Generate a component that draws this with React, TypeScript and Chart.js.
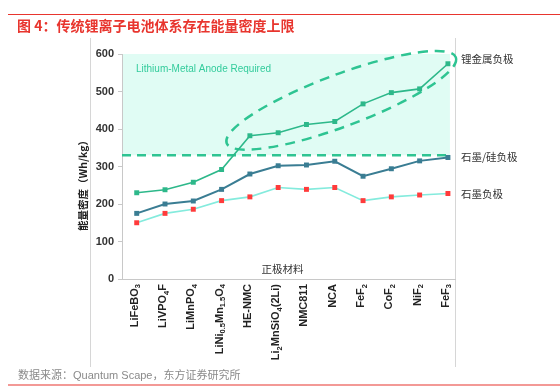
import React, { useEffect, useRef } from "react";
import { Chart, registerables } from "chart.js";

Chart.register(...registerables);

// ---------------- data ----------------
const categories = [
  "LiFeBO_{3}",
  "LiVPO_{4}F",
  "LiMnPO_{4}",
  "LiNi_{0.5}Mn_{1.5}O_{4}",
  "HE-NMC",
  "Li_{2}MnSiO_{4}(2Li)",
  "NMC811",
  "NCA",
  "FeF_{2}",
  "CoF_{2}",
  "NiF_{2}",
  "FeF_{3}",
];
const lithiumMetal = [230, 238, 258, 292, 382, 390, 412, 420, 467, 497, 507, 574];
const graphiteSilicon = [175, 200, 208, 239, 280, 302, 304, 314, 274, 294, 315, 324];
const graphite = [150, 175, 186, 209, 219, 244, 239, 244, 209, 219, 224, 228];
const seriesNames = ["锂金属负极", "石墨/硅负极", "石墨负极"];
const yMin = 0;
const yMax = 600;
const yStep = 100;
const limitValue = 330;
const titleText = "图 4：传统锂离子电池体系存在能量密度上限";
const sourceText = "数据来源：Quantum Scape，东方证券研究所";
const yTitle = "能量密度（Wh/kg）";
const xTitle = "正极材料";
const zoneText = "Lithium-Metal Anode Required";

// annotation geometry (data units)
const SHADE_END_INDEX = 11.07;
const ELLIPSE_A = { x: 3.18, y: 362 };
const ELLIPSE_B = { x: 11.28, y: 591 };
const ELLIPSE_HALF_WIDTH = 26;

// ---------------- styles ----------------
const LATIN = '"Liberation Sans", Arial, "Noto Sans CJK SC", sans-serif';
const CJK = '"Noto Sans CJK SC", "Liberation Sans", sans-serif';
const RED = "#E8352E";
const GREEN = "#2DB88A";
const DASH_GREEN = "#2EC492";
const BLUE = "#3A7D93";
const CYAN = "#84EBDD";
const MARK_RED = "#FF3B3B";
const AXIS_GRAY = "#c8c8c8";

function parseLabel(s: string) {
  const parts: { text: string; sub: boolean }[] = [];
  const re = /_\{([^}]*)\}/g;
  let last = 0;
  let m: RegExpExecArray | null;
  while ((m = re.exec(s)) !== null) {
    if (m.index > last) parts.push({ text: s.slice(last, m.index), sub: false });
    parts.push({ text: m[1], sub: true });
    last = m.index + m[0].length;
  }
  if (last < s.length) parts.push({ text: s.slice(last), sub: false });
  return parts;
}

const decorPlugin = {
  id: "decor",
  beforeDraw(chart: any) {
    const { ctx, chartArea } = chart;
    const x = chart.scales.x;
    const y = chart.scales.y;
    ctx.save();
    ctx.fillStyle = "#ffffff";
    ctx.fillRect(0, 0, chart.width, chart.height);
    // shaded zone
    const xl = chartArea.left + 1;
    const xr = x.getPixelForValue(SHADE_END_INDEX);
    const yt = y.getPixelForValue(yMax);
    const yb = y.getPixelForValue(limitValue);
    ctx.fillStyle = "#E0FCF4";
    ctx.fillRect(xl, yt, xr - xl, yb - yt);
    // frame lines
    ctx.strokeStyle = "#d6d6d6";
    ctx.lineWidth = 1;
    ctx.beginPath();
    ctx.moveTo(90.5, 38);
    ctx.lineTo(90.5, 367);
    ctx.moveTo(chartArea.right + 0.5, 38);
    ctx.lineTo(chartArea.right + 0.5, 367);
    ctx.stroke();
    // red rules
    ctx.strokeStyle = RED;
    ctx.lineWidth = 1.2;
    ctx.beginPath();
    ctx.moveTo(8, 14.5);
    ctx.lineTo(560, 14.5);
    ctx.moveTo(8, 385);
    ctx.lineTo(560, 385);
    ctx.stroke();
    ctx.restore();
  },
  beforeDatasetsDraw(chart: any) {
    const { ctx, chartArea } = chart;
    const x = chart.scales.x;
    const y = chart.scales.y;
    ctx.save();
    ctx.strokeStyle = DASH_GREEN;
    ctx.lineWidth = 2.5;
    ctx.setLineDash([9, 6]);
    const yl = y.getPixelForValue(limitValue);
    ctx.beginPath();
    ctx.moveTo(chartArea.left, yl);
    ctx.lineTo(x.getPixelForValue(SHADE_END_INDEX), yl);
    ctx.stroke();
    // ellipse
    const ax = x.getPixelForValue(ELLIPSE_A.x);
    const ay = y.getPixelForValue(ELLIPSE_A.y);
    const bx = x.getPixelForValue(ELLIPSE_B.x);
    const by = y.getPixelForValue(ELLIPSE_B.y);
    const cx = (ax + bx) / 2;
    const cy = (ay + by) / 2;
    const semi = Math.hypot(bx - ax, by - ay) / 2;
    const ang = Math.atan2(by - ay, bx - ax);
    ctx.setLineDash([10, 7]);
    ctx.beginPath();
    ctx.ellipse(cx, cy, semi, ELLIPSE_HALF_WIDTH, ang, 0, Math.PI * 2);
    ctx.stroke();
    ctx.restore();
  },
  afterDraw(chart: any) {
    const { ctx, chartArea } = chart;
    const x = chart.scales.x;
    const y = chart.scales.y;
    ctx.save();
    // title
    ctx.fillStyle = RED;
    ctx.font = `bold 14px ${CJK}`;
    ctx.textAlign = "left";
    ctx.textBaseline = "middle";
    ctx.fillText(titleText, 17, 26);
    // source
    ctx.fillStyle = "#8a8a8a";
    ctx.font = `11px ${LATIN}`;
    ctx.fillText(sourceText, 18, 376);
    // zone text
    ctx.fillStyle = "#33CC9C";
    ctx.font = `10px ${LATIN}`;
    ctx.fillText(zoneText, chartArea.left + 14, chartArea.top + 15);
    // x title
    ctx.fillStyle = "#333";
    ctx.font = `10.5px ${CJK}`;
    ctx.textAlign = "center";
    ctx.fillText(xTitle, (chartArea.left + chartArea.right) / 2 - 6, chartArea.bottom - 10);
    // y title
    ctx.save();
    ctx.translate(83, 183);
    ctx.rotate(-Math.PI / 2);
    ctx.font = `bold 10.5px ${CJK}`;
    ctx.fillStyle = "#222";
    ctx.fillText(yTitle, 0, 0);
    ctx.restore();
    // series names at right
    const lasts = [lithiumMetal, graphiteSilicon, graphite].map((a) => a[a.length - 1]);
    const offs = [-5, 0, 1];
    ctx.font = `10.5px ${CJK}`;
    ctx.fillStyle = "#333";
    ctx.textAlign = "left";
    seriesNames.forEach((n, i) => {
      ctx.fillText(n, chartArea.right + 6, y.getPixelForValue(lasts[i]) + offs[i]);
    });
    // x tick labels (rotated, with subscripts)
    const mainSize = 11;
    const subSize = 7.5;
    const top = chartArea.bottom + 5;
    categories.forEach((lab, i) => {
      const parts = parseLabel(lab);
      let w = 0;
      parts.forEach((p) => {
        ctx.font = `bold ${p.sub ? subSize : mainSize}px ${LATIN}`;
        w += ctx.measureText(p.text).width;
      });
      const px = x.getPixelForValue(i) - 3;
      ctx.save();
      ctx.translate(px, top);
      ctx.rotate(-Math.PI / 2);
      ctx.textAlign = "left";
      ctx.textBaseline = "alphabetic";
      ctx.fillStyle = "#222";
      let cur = -w;
      parts.forEach((p) => {
        ctx.font = `bold ${p.sub ? subSize : mainSize}px ${LATIN}`;
        ctx.fillText(p.text, cur, p.sub ? 6.5 : 4);
        cur += ctx.measureText(p.text).width;
      });
      ctx.restore();
    });
    ctx.restore();
  },
};

export default function App() {
  const ref = useRef<HTMLCanvasElement | null>(null);
  useEffect(() => {
    if (!ref.current) return;
    Chart.defaults.font.family = LATIN;
    const toPts = (arr: number[]) => arr.map((v, i) => ({ x: i, y: v }));
    const chart = new Chart(ref.current, {
      type: "line",
      data: {
        datasets: [
          {
            label: seriesNames[0],
            data: toPts(lithiumMetal),
            borderColor: GREEN,
            backgroundColor: GREEN,
            borderWidth: 1.6,
            pointStyle: "rect",
            pointRadius: 3.5,
            pointBorderWidth: 0,
            tension: 0,
          },
          {
            label: seriesNames[1],
            data: toPts(graphiteSilicon),
            borderColor: BLUE,
            backgroundColor: BLUE,
            borderWidth: 2,
            pointStyle: "rect",
            pointRadius: 3.5,
            pointBorderWidth: 0,
            tension: 0,
          },
          {
            label: seriesNames[2],
            data: toPts(graphite),
            borderColor: CYAN,
            backgroundColor: MARK_RED,
            borderWidth: 1.6,
            pointStyle: "rect",
            pointRadius: 3.5,
            pointBorderWidth: 0,
            tension: 0,
          },
        ],
      },
      options: {
        responsive: false,
        animation: false,
        devicePixelRatio: 1,
        layout: { padding: { left: 0, top: 54, right: 105, bottom: 0 } },
        plugins: { legend: { display: false }, tooltip: { enabled: false }, title: { display: false } },
        scales: {
          x: {
            type: "linear",
            min: -0.52,
            max: 11.25,
            grid: { display: false },
            ticks: { display: false },
            border: { display: true, color: AXIS_GRAY, width: 1 },
            afterFit: (s: any) => {
              s.height = 108;
            },
          },
          y: {
            min: yMin,
            max: yMax,
            ticks: {
              stepSize: yStep,
              color: "#333",
              font: { size: 11, weight: "bold", family: LATIN },
              padding: 4,
            },
            grid: { drawOnChartArea: false, drawTicks: true, tickLength: 4, color: AXIS_GRAY },
            border: { display: true, color: AXIS_GRAY, width: 1 },
            afterFit: (s: any) => {
              s.width = 122;
            },
          },
        },
      },
      plugins: [decorPlugin],
    } as any);
    return () => chart.destroy();
  }, []);
  return (
    <div style={{ position: "absolute", left: 0, top: 0, width: 560, height: 387 }}>
      <canvas ref={ref} width={560} height={387} />
    </div>
  );
}
